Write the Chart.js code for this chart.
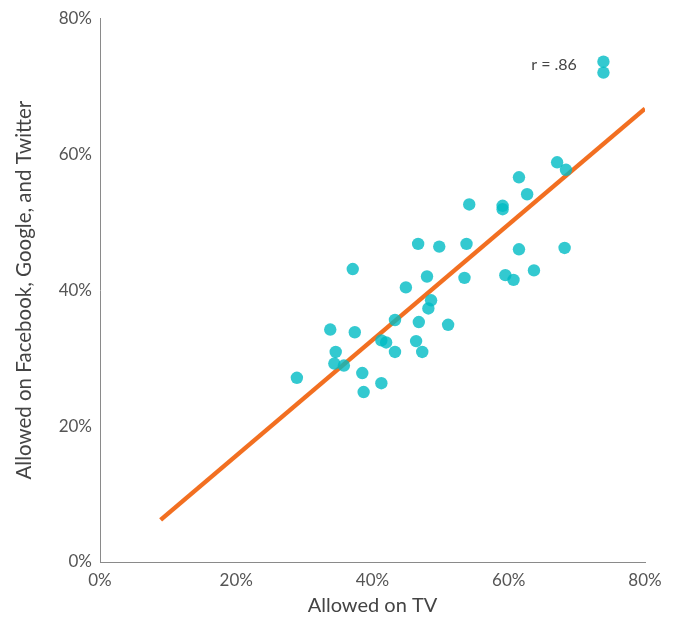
<!DOCTYPE html>
<html>
<head>
<meta charset="utf-8">
<script src="https://cdn.jsdelivr.net/npm/chart.js@4/dist/chart.umd.min.js"></script>
<style>
  html, body { margin: 0; padding: 0; background: #fff; }
  #wrap { width: 683px; height: 619px; }
</style>
</head>
<body>
<div id="wrap"><canvas id="scatter"></canvas></div>
<script>
// share of items allowed on TV vs. allowed on Facebook/Google/Twitter (percent)
const allowedTV = [73.9, 73.9, 67.1, 68.4, 61.5, 62.7, 54.2, 59.1, 59.1, 46.7,
    49.8, 53.8, 61.5, 68.2, 37.1, 63.7, 59.5, 60.7, 53.5, 48.0,
    44.9, 48.6, 48.2, 43.3, 46.8, 51.1, 33.8, 37.4, 41.3, 42.0,
    46.4, 34.6, 43.3, 47.3, 34.4, 35.8, 28.9, 38.5, 41.3, 38.7];
const allowedSocial = [73.6, 72.0, 58.8, 57.7, 56.6, 54.1, 52.6, 52.4, 51.9, 46.8,
    46.4, 46.8, 46.0, 46.2, 43.1, 42.9, 42.2, 41.5, 41.8, 42.0,
    40.4, 38.5, 37.3, 35.6, 35.3, 34.9, 34.2, 33.8, 32.6, 32.3,
    32.5, 30.9, 30.9, 30.9, 29.2, 28.9, 27.1, 27.8, 26.3, 25.0];

// fitted line end points
const trendTV = [8.9, 80];
const trendSocial = [6.2, 66.7];

const tickValues = [0, 20, 40, 60, 80];
const corrLabel = 'r = .86';

const points = allowedTV.map((x, i) => ({ x: x, y: allowedSocial[i] }));
const trend = trendTV.map((x, i) => ({ x: x, y: trendSocial[i] }));

const corrText = {
    id: 'corrText',
    afterDatasetsDraw(chart) {
        const c = chart.ctx;
        const xs = chart.scales.x, ys = chart.scales.y;
        c.save();
        c.font = '16px Lato';
        c.fillStyle = '#444';
        c.textAlign = 'right';
        c.textBaseline = 'middle';
        c.fillText(corrLabel, xs.getPixelForValue(70), ys.getPixelForValue(73.1));
        c.restore();
    }
};

const canvas = document.getElementById('scatter');
var ctx = canvas.getContext('2d');
new Chart(ctx, {
    type: 'scatter',
    data: {
        datasets: [{
            data: points,
            backgroundColor: 'rgba(0, 188, 196, 0.8)',
            borderWidth: 0,
            pointRadius: 6.2,
            pointHoverRadius: 6.2,
            order: 0
        }, {
            type: 'line',
            data: trend,
            borderColor: '#f26f21',
            borderWidth: 4.5,
            pointRadius: 0,
            fill: false,
            order: 1
        }]
    },
    options: {
        responsive: true,
        maintainAspectRatio: false,
        animation: false,
        layout: { padding: { top: 16, right: 38, left: 0, bottom: 0 } },
        plugins: {
            legend: { display: false },
            tooltip: { enabled: false }
        },
        scales: {
            x: {
                type: 'linear',
                min: 0,
                max: 80,
                afterBuildTicks: (s) => { s.ticks = tickValues.map(v => ({ value: v })); },
                afterFit: (s) => { s.height = 57; },
                grid: { display: false, drawTicks: false },
                border: { display: true, color: '#8a8a8a', width: 1 },
                ticks: {
                    padding: 8,
                    color: '#555',
                    font: { family: 'Lato', size: 17 },
                    callback: (v) => v + '%'
                },
                title: {
                    display: true,
                    text: 'Allowed on TV',
                    color: '#444',
                    font: { family: 'Lato', size: 20 },
                    padding: { top: 0, bottom: 1 }
                }
            },
            y: {
                type: 'linear',
                min: 0,
                max: 80,
                afterBuildTicks: (s) => { s.ticks = tickValues.map(v => ({ value: v })); },
                afterFit: (s) => { s.width = 100; },
                grid: { display: false, drawTicks: false },
                border: { display: true, color: '#8a8a8a', width: 1 },
                ticks: {
                    padding: 8,
                    color: '#555',
                    font: { family: 'Lato', size: 17 },
                    callback: (v) => v + '%'
                },
                title: {
                    display: true,
                    text: 'Allowed on Facebook, Google, and Twitter',
                    color: '#444',
                    font: { family: 'Lato', size: 20.5 },
                    padding: { top: 12, bottom: 0 }
                }
            }
        }
    },
    plugins: [corrText]
});
</script>
</body>
</html>
